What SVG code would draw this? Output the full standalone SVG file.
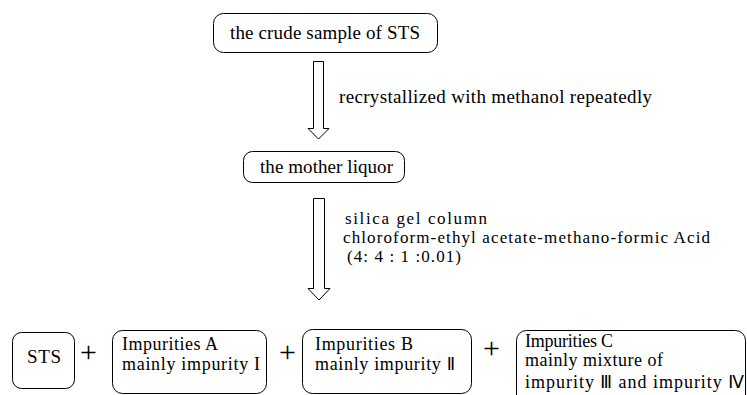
<svg xmlns="http://www.w3.org/2000/svg" width="747" height="395" viewBox="0 0 747 395">
<style>
text{font-family:"Liberation Serif","Times New Roman",serif;font-size:18px;fill:#000}
.big{font-size:19px}
.small{font-size:17px}
.box{fill:#fff;stroke:#000;stroke-width:1}
.arrow{fill:#fff;stroke:#000;stroke-width:1}
.plus{font-size:30px}
.rn{font-family:"DejaVu Sans","Noto Sans CJK SC",sans-serif;font-size:17px}
</style>
<rect width="747" height="395" fill="#fff"/>
<g id="crude">
<rect class="box" x="213.5" y="13.5" width="224" height="39" rx="10"/>
<text class="big" x="230" y="39" textLength="190" lengthAdjust="spacing">the crude sample of STS</text>
</g>
<g id="mother">
<rect class="box" x="243.5" y="151.5" width="161" height="31" rx="9"/>
<text class="big" x="260" y="173" textLength="133" lengthAdjust="spacing">the mother liquor</text>
</g>
<g id="sts">
<rect class="box" x="12.5" y="332.5" width="62" height="56" rx="9"/>
<text class="big" x="27" y="363" textLength="34" lengthAdjust="spacing">STS</text>
</g>
<g id="impA">
<rect class="box" x="112.5" y="330.5" width="154" height="63" rx="10"/>
<text x="122" y="350" textLength="96" lengthAdjust="spacing">Impurities A</text>
<text x="122" y="370" textLength="138" lengthAdjust="spacing">mainly impurity  I</text>
</g>
<g id="impB">
<rect class="box" x="302.5" y="329.5" width="169" height="64" rx="10"/>
<text x="315" y="350" textLength="98" lengthAdjust="spacing">Impurities B</text>
<text x="315" y="370" textLength="140" lengthAdjust="spacing">mainly impurity  <tspan class="rn">Ⅱ</tspan></text>
</g>
<g id="impC">
<rect class="box" x="516.5" y="330.5" width="229" height="80" rx="10"/>
<text x="525" y="347" textLength="88" lengthAdjust="spacing">Impurities C</text>
<text x="525" y="366" textLength="138" lengthAdjust="spacing">mainly mixture of</text>
<text x="525" y="388" textLength="219" lengthAdjust="spacing">impurity <tspan class="rn">Ⅲ</tspan> and impurity  <tspan class="rn">Ⅳ</tspan></text>
</g>
<g id="connectors">
<path class="arrow" d="M313.5,61.5 H323.5 V128.5 H329 L318.5,139 L308,128.5 H313.5 Z"/>
<path class="arrow" d="M313.5,198.5 H324.5 V288.5 H330 L319,300 L308,288.5 H313.5 Z"/>
<text class="big" x="339" y="103" textLength="313" lengthAdjust="spacing">recrystallized with methanol repeatedly</text>
<text class="small" x="345" y="224" textLength="142" lengthAdjust="spacing">silica gel column</text>
<text class="small" x="343" y="243" textLength="367" lengthAdjust="spacing">chloroform-ethyl acetate-methano-formic Acid</text>
<text class="small" x="347" y="262" textLength="114" lengthAdjust="spacing">(4: 4 : 1 :0.01)</text>
<text class="plus" x="80" y="362">+</text>
<text class="plus" x="279" y="362">+</text>
<text class="plus" x="483" y="358">+</text>
</g>
</svg>
